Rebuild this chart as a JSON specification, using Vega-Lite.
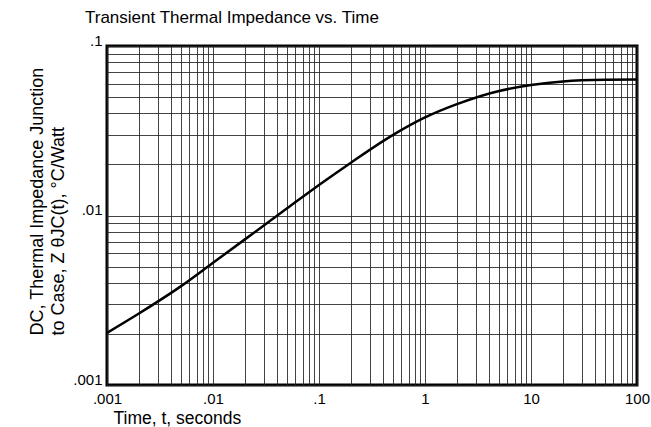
{
  "$schema": "https://vega.github.io/schema/vega-lite/v6.json",
  "width": 530,
  "height": 339,
  "autosize": {"type": "none"},
  "padding": {"left": 107, "top": 46, "right": 14, "bottom": 42},
  "background": "white",
  "config": {
    "font": "Liberation Sans",
    "view": {"stroke": "black", "strokeWidth": 3}
  },
  "title": {
    "text": "Transient Thermal Impedance vs. Time",
    "anchor": "start",
    "frame": "group",
    "dx": -22,
    "dy": 11,
    "offset": 4,
    "baseline": "alphabetic",
    "fontSize": 17,
    "fontWeight": "normal",
    "color": "black"
  },
  "data": {
    "values": [
      {"t": 0.001, "z": 0.00203},
      {"t": 0.002, "z": 0.00264},
      {"t": 0.005, "z": 0.00383},
      {"t": 0.01, "z": 0.00526},
      {"t": 0.02, "z": 0.00723},
      {"t": 0.05, "z": 0.01102},
      {"t": 0.1, "z": 0.01514},
      {"t": 0.2, "z": 0.0205},
      {"t": 0.5, "z": 0.0299},
      {"t": 1, "z": 0.0379},
      {"t": 2, "z": 0.0454},
      {"t": 5, "z": 0.0543},
      {"t": 10, "z": 0.0588},
      {"t": 20, "z": 0.0618},
      {"t": 50, "z": 0.0632},
      {"t": 100, "z": 0.0634}
    ]
  },
  "mark": {"type": "line", "color": "black", "strokeWidth": 2.5, "interpolate": "monotone"},
  "encoding": {
    "x": {
      "field": "t",
      "type": "quantitative",
      "scale": {"type": "log", "domain": [0.001, 100], "nice": false},
      "axis": {
        "values": [0.001,0.002,0.003,0.004,0.005,0.006,0.007,0.008,0.009,0.01,0.02,0.03,0.04,0.05,0.06,0.07,0.08,0.09,0.1,0.2,0.3,0.4,0.5,0.6,0.7,0.8,0.9,1,2,3,4,5,6,7,8,9,10,20,30,40,50,60,70,80,90,100],
        "labelExpr": "abs(log(datum.value)/LN10 - round(log(datum.value)/LN10)) < 0.001 ? (datum.value < 1 ? slice(format(datum.value, '~g'), 1) : format(datum.value, '~g')) : ''",
        "labelOverlap": false,
        "labelFlush": false,
        "labelFontSize": 15,
        "labelColor": "black",
        "labelPadding": 6,
        "ticks": false,
        "domain": false,
        "grid": true,
        "gridColor": "#222",
        "gridOpacity": 0.85,
        "gridWidth": 1,
        "title": "Time, t, seconds",
        "titleFontSize": 17.5,
        "titleFontWeight": "normal",
        "titleColor": "black",
        "titleAlign": "left",
        "titleAnchor": "start",
        "titleX": 6,
        "titleY": 38,
        "titleBaseline": "alphabetic"
      }
    },
    "y": {
      "field": "z",
      "type": "quantitative",
      "scale": {"type": "log", "domain": [0.001, 0.1], "nice": false},
      "axis": {
        "values": [0.001,0.002,0.003,0.004,0.005,0.006,0.007,0.008,0.009,0.01,0.02,0.03,0.04,0.05,0.06,0.07,0.08,0.09,0.1],
        "labelExpr": "abs(log(datum.value)/LN10 - round(log(datum.value)/LN10)) < 0.001 ? slice(format(datum.value, '~g'), 1) : ''",
        "labelOverlap": false,
        "labelFlush": false,
        "labelFontSize": 15,
        "labelColor": "black",
        "labelPadding": 5,
        "labelBaseline": "alphabetic",
        "labelOffset": -1,
        "ticks": false,
        "domain": false,
        "grid": true,
        "gridColor": "#222",
        "gridOpacity": 0.85,
        "gridWidth": 1,
        "title": ["DC, Thermal Impedance Junction", "to Case, Z θJC(t), °C/Watt"],
        "titleFontSize": 18,
        "titleFontWeight": "normal",
        "titleColor": "black",
        "titleAngle": 270,
        "titleAlign": "left",
        "titleBaseline": "alphabetic",
        "titleLineHeight": 21,
        "titleX": -65,
        "titleY": 289
      }
    }
  }
}
